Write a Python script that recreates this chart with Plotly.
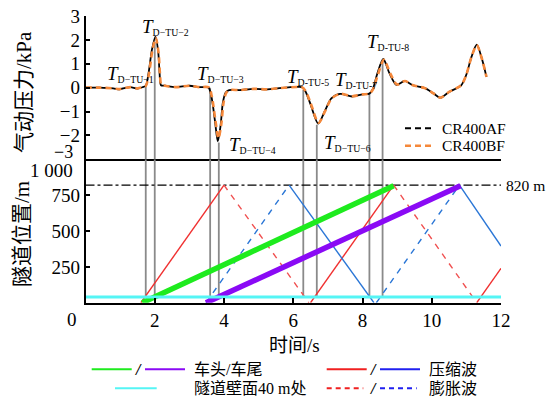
import plotly.graph_objects as go

# ---- aerodynamic pressure at the tunnel wall (kPa) ----
time_af = [0, 0.4, 0.8, 0.98, 1.15, 1.3, 1.5, 1.65, 1.74, 1.82, 1.92, 2.02, 2.1, 2.14, 2.18,
           2.3, 2.6, 3.0, 3.3, 3.55, 3.64, 3.74, 3.82, 3.9, 3.97, 4.05, 4.15, 4.45, 4.85,
           5.25, 5.6, 6.1, 6.25, 6.35, 6.5, 6.72, 6.92, 7.1, 7.35, 7.7, 8.0, 8.2, 8.3,
           8.42, 8.6, 8.78, 8.98, 9.22, 9.45, 9.8, 10.05, 10.25, 10.5, 10.85, 11.0, 11.15,
           11.3, 11.45, 11.58]
pres_af = [0, 0, -0.03, -0.07, -0.01, 0.02, -0.04, 0.02, 0.08, 0.6, 1.6, 2.14, 1.5, 0.6, 0.1,
           0.08, 0.02, 0.08, 0.02, 0.01, -0.4, -1.4, -2.25, -1.6, -0.6, -0.2, -0.1, -0.1, -0.05,
           -0.07, -0.02, 0.03, 0.02, -0.15, -0.7, -1.5, -0.95, -0.45, -0.26, -0.37, -0.28, -0.25, -0.05,
           0.55, 1.2, 0.6, 0.12, 0.28, 0.1, -0.02, -0.24, -0.42, -0.18, 0.1, 0.55, 1.3,
           1.8, 1.2, 0.45]
time_bf = [0, 0.4, 0.8, 0.98, 1.15, 1.3, 1.5, 1.65, 1.74, 1.83, 1.93, 2.03, 2.11, 2.15, 2.19,
           2.3, 2.6, 3.0, 3.3, 3.56, 3.65, 3.75, 3.84, 3.92, 3.99, 4.07, 4.17, 4.45, 4.85,
           5.25, 5.6, 6.1, 6.25, 6.36, 6.51, 6.73, 6.93, 7.11, 7.35, 7.7, 8.0, 8.2, 8.31,
           8.44, 8.62, 8.8, 9.0, 9.23, 9.46, 9.8, 10.05, 10.25, 10.5, 10.85, 11.0, 11.15,
           11.3, 11.45, 11.58]
pres_bf = [0, 0, -0.03, -0.06, -0.01, 0.02, -0.03, 0.02, 0.07, 0.55, 1.55, 2.08, 1.45, 0.6, 0.12,
           0.08, 0.02, 0.08, 0.02, 0.01, -0.38, -1.35, -2.12, -1.55, -0.6, -0.2, -0.1, -0.1, -0.05,
           -0.07, -0.02, 0.03, 0.02, -0.15, -0.68, -1.47, -0.95, -0.45, -0.26, -0.36, -0.28, -0.25, -0.05,
           0.52, 1.17, 0.6, 0.13, 0.28, 0.1, -0.02, -0.24, -0.42, -0.18, 0.1, 0.55, 1.3,
           1.78, 1.2, 0.45]

# ---- characteristic moments T_D-TU-i (s) and pressure at each moment (kPa) ----
mark_time = [1.74, 2.0, 3.6, 3.85, 6.29, 6.68, 8.2, 8.58]
mark_pres = [0.05, 1.9, 0.0, -2.3, -0.1, -1.55, -0.25, 1.1]
mark_names = ["D−TU−1", "D−TU−2", "D−TU−3", "D−TU−4",
              "D-TU-5", "D−TU−6", "D-TU-7", "D-TU-8"]

# ---- tunnel position diagram (m) ----
tunnel_length = 820
wall_point = 40
head_time = [1.64, 8.9]
head_pos = [0, 815]
tail_time = [3.48, 10.83]
tail_pos = [0, 815]
red_solid_time = [[1.6, 4.0], [6.5, 8.9], [11.3, 12.0]]
red_solid_pos = [[0, 820], [0, 820], [0, 240]]
red_dash_time = [[4.0, 6.45], [8.9, 11.3]]
red_dash_pos = [[820, 0], [820, 0]]
blue_solid_time = [[5.88, 8.33], [10.8, 12.0]]
blue_solid_pos = [[820, 0], [820, 395]]
blue_dash_time = [[3.48, 5.88], [8.4, 10.8]]
blue_dash_pos = [[0, 820], [0, 820]]

x_ticks = [0, 2, 4, 6, 8, 10, 12]
p_ticks = [-3, -2, -1, 0, 1, 2, 3]
pos_ticks = [250, 500, 750]

W, H = 546, 400
FONT = "Liberation Serif, Times New Roman, Noto Sans CJK SC"


def px(x):
    return x / W


def py(y):
    return 1 - y / H


def joined(ts, ys):
    xs, vs = [], []
    for t, y in zip(ts, ys):
        xs += list(t) + [None]
        vs += list(y) + [None]
    return xs, vs


fig = go.Figure()

# vertical markers through both panels
vx_top, vy_top, vx_bot, vy_bot = [], [], [], []
for t, p in zip(mark_time, mark_pres):
    vx_top += [t, t, None]
    vy_top += [p, -3, None]
    vx_bot += [t, t, None]
    vy_bot += [1000, wall_point, None]
fig.add_trace(go.Scatter(x=vx_top, y=vy_top, mode="lines", xaxis="x", yaxis="y",
                         line=dict(color="#8a8a8a", width=1.8), hoverinfo="skip"))
fig.add_trace(go.Scatter(x=vx_bot, y=vy_bot, mode="lines", xaxis="x2", yaxis="y2",
                         line=dict(color="#8a8a8a", width=1.8), hoverinfo="skip"))

# pressure curves
fig.add_trace(go.Scatter(x=time_af, y=pres_af, mode="lines", name="CR400AF", xaxis="x", yaxis="y",
                         line=dict(color="black", width=1.8, shape="spline", smoothing=0.8)))
fig.add_trace(go.Scatter(x=time_bf, y=pres_bf, mode="lines", name="CR400BF", xaxis="x", yaxis="y",
                         line=dict(color="#F5883A", width=2.6, dash="6px,4px",
                                   shape="spline", smoothing=0.8)))

# tunnel exit level
fig.add_trace(go.Scatter(x=[0, 12], y=[tunnel_length, tunnel_length], mode="lines",
                         xaxis="x2", yaxis="y2",
                         line=dict(color="black", width=1.3, dash="dashdot")))

# pressure waves
for ts, ys, col, dash in [
    (red_solid_time, red_solid_pos, "#F03030", "solid"),
    (red_dash_time, red_dash_pos, "#F05050", "6px,6px"),
    (blue_solid_time, blue_solid_pos, "#2A76D6", "solid"),
    (blue_dash_time, blue_dash_pos, "#2A76D6", "6px,6px"),
]:
    xs, vs = joined(ts, ys)
    fig.add_trace(go.Scatter(x=xs, y=vs, mode="lines", xaxis="x2", yaxis="y2",
                             line=dict(color=col, width=1.4, dash=dash)))

# train head and tail
fig.add_trace(go.Scatter(x=head_time, y=head_pos, mode="lines", xaxis="x2", yaxis="y2",
                         line=dict(color="#1EEB1E", width=5.5)))
fig.add_trace(go.Scatter(x=tail_time, y=tail_pos, mode="lines", xaxis="x2", yaxis="y2",
                         line=dict(color="#8A0AF5", width=5.5)))

# monitoring point on the tunnel wall
fig.add_trace(go.Scatter(x=[0, 12], y=[wall_point, wall_point], mode="lines",
                         xaxis="x2", yaxis="y2",
                         line=dict(color="#55F5F5", width=3)))

xdom = [px(85.5), px(501)]
axis_common = dict(showgrid=False, zeroline=False, showline=True, linecolor="black",
                   linewidth=1.6, tickcolor="black", tickwidth=1.5, automargin=False,
                   tickfont=dict(family=FONT, size=19, color="black"))

fig.update_layout(
    width=W, height=H, autosize=False,
    margin=dict(l=0, r=0, t=0, b=0, pad=0),
    paper_bgcolor="white", plot_bgcolor="white",
    showlegend=False,
    font=dict(family=FONT, color="black"),
    xaxis=dict(domain=xdom, range=[0, 12], anchor="y", showticklabels=False, ticks="",
               **{k: v for k, v in axis_common.items() if k != "tickfont"}),
    yaxis=dict(domain=[py(159.3), py(16)], range=[-3, 3], anchor="x", ticks="inside", ticklen=5,
               tickvals=p_ticks, ticktext=["", "−2", "−1", "0", "1", "2", "3"], **axis_common),
    xaxis2=dict(domain=xdom, range=[0, 12], anchor="y2", ticks="inside", ticklen=5,
                tickvals=x_ticks, ticktext=[""] + [str(v) for v in x_ticks[1:]], **axis_common),
    yaxis2=dict(domain=[py(302.7), py(159.3)], range=[0, 1000], anchor="x2", ticks="inside",
                ticklen=5, tickvals=pos_ticks, ticktext=[str(v) for v in pos_ticks], **axis_common),
)

ann = []


def text(x, y, s, size, xanchor="center", yanchor="middle", angle=0):
    ann.append(dict(x=px(x), y=py(y), xref="paper", yref="paper", text=s, showarrow=False,
                    xanchor=xanchor, yanchor=yanchor, textangle=angle,
                    font=dict(family=FONT, size=size, color="black")))


# displaced corner tick labels
text(75, 152, "−3", 18, xanchor="right")
text(75, 170, "1 000", 19, xanchor="right")
text(71.7, 319, "0", 19)

# axis titles
text(24, 92, "气动压力/kPa", 21, angle=-90)
text(22, 234, "隧道位置/m", 21, angle=-90)
text(294, 345, "时间/s", 19)
text(504, 185, "820 m", 15.5, xanchor="left")

# T_D-TU labels
label_xy = [(105, 74), (140, 27), (195, 74), (227, 145), (285, 77), (322, 143), (333, 80), (365, 42)]
for (lx, ly), name in zip(label_xy, mark_names):
    text(lx, ly, "<span style='font-size:19px'><i>T</i></span><sub>%s</sub>" % name, 14,
         xanchor="left")

shapes = []


def seg(x0, x1, y, col, width=2, dash="solid"):
    shapes.append(dict(type="line", xref="paper", yref="paper", x0=px(x0), x1=px(x1),
                       y0=py(y), y1=py(y), line=dict(color=col, width=width, dash=dash)))


# legend for the pressure curves
seg(405, 433, 128.3, "black", 2, "6px,4px")
seg(405, 433, 145.7, "#F5883A", 2.4, "6px,4px")
text(440, 128.3, "CR400AF", 15.5, xanchor="left")
text(440, 145.7, "CR400BF", 15.5, xanchor="left")

# legend for the position diagram
seg(91.7, 131.7, 369.3, "#1EEB1E")
seg(145, 185, 369.3, "#8A0AF5")
text(138, 369.3, "<b><i>/</i></b>", 16)
text(191.7, 369.3, "车头/车尾", 16, xanchor="left")
seg(326.7, 366.7, 369.3, "#F02020")
seg(380, 420, 369.3, "#2020F0")
text(373.5, 369.3, "<b><i>/</i></b>", 16)
text(426.7, 369.3, "压缩波", 16, xanchor="left")
seg(115, 156.7, 388.3, "#55F5F5")
text(191.7, 388.3, "隧道壁面40 m处", 16, xanchor="left")
seg(326.7, 363.3, 388.3, "#F02020", 2, "5px,4px")
seg(380, 416.7, 388.3, "#2020F0", 2, "5px,4px")
text(373.5, 388.3, "<b><i>/</i></b>", 16)
text(426.7, 388.3, "膨胀波", 16, xanchor="left")

fig.update_layout(annotations=ann, shapes=shapes)
fig.write_html("out.html")
